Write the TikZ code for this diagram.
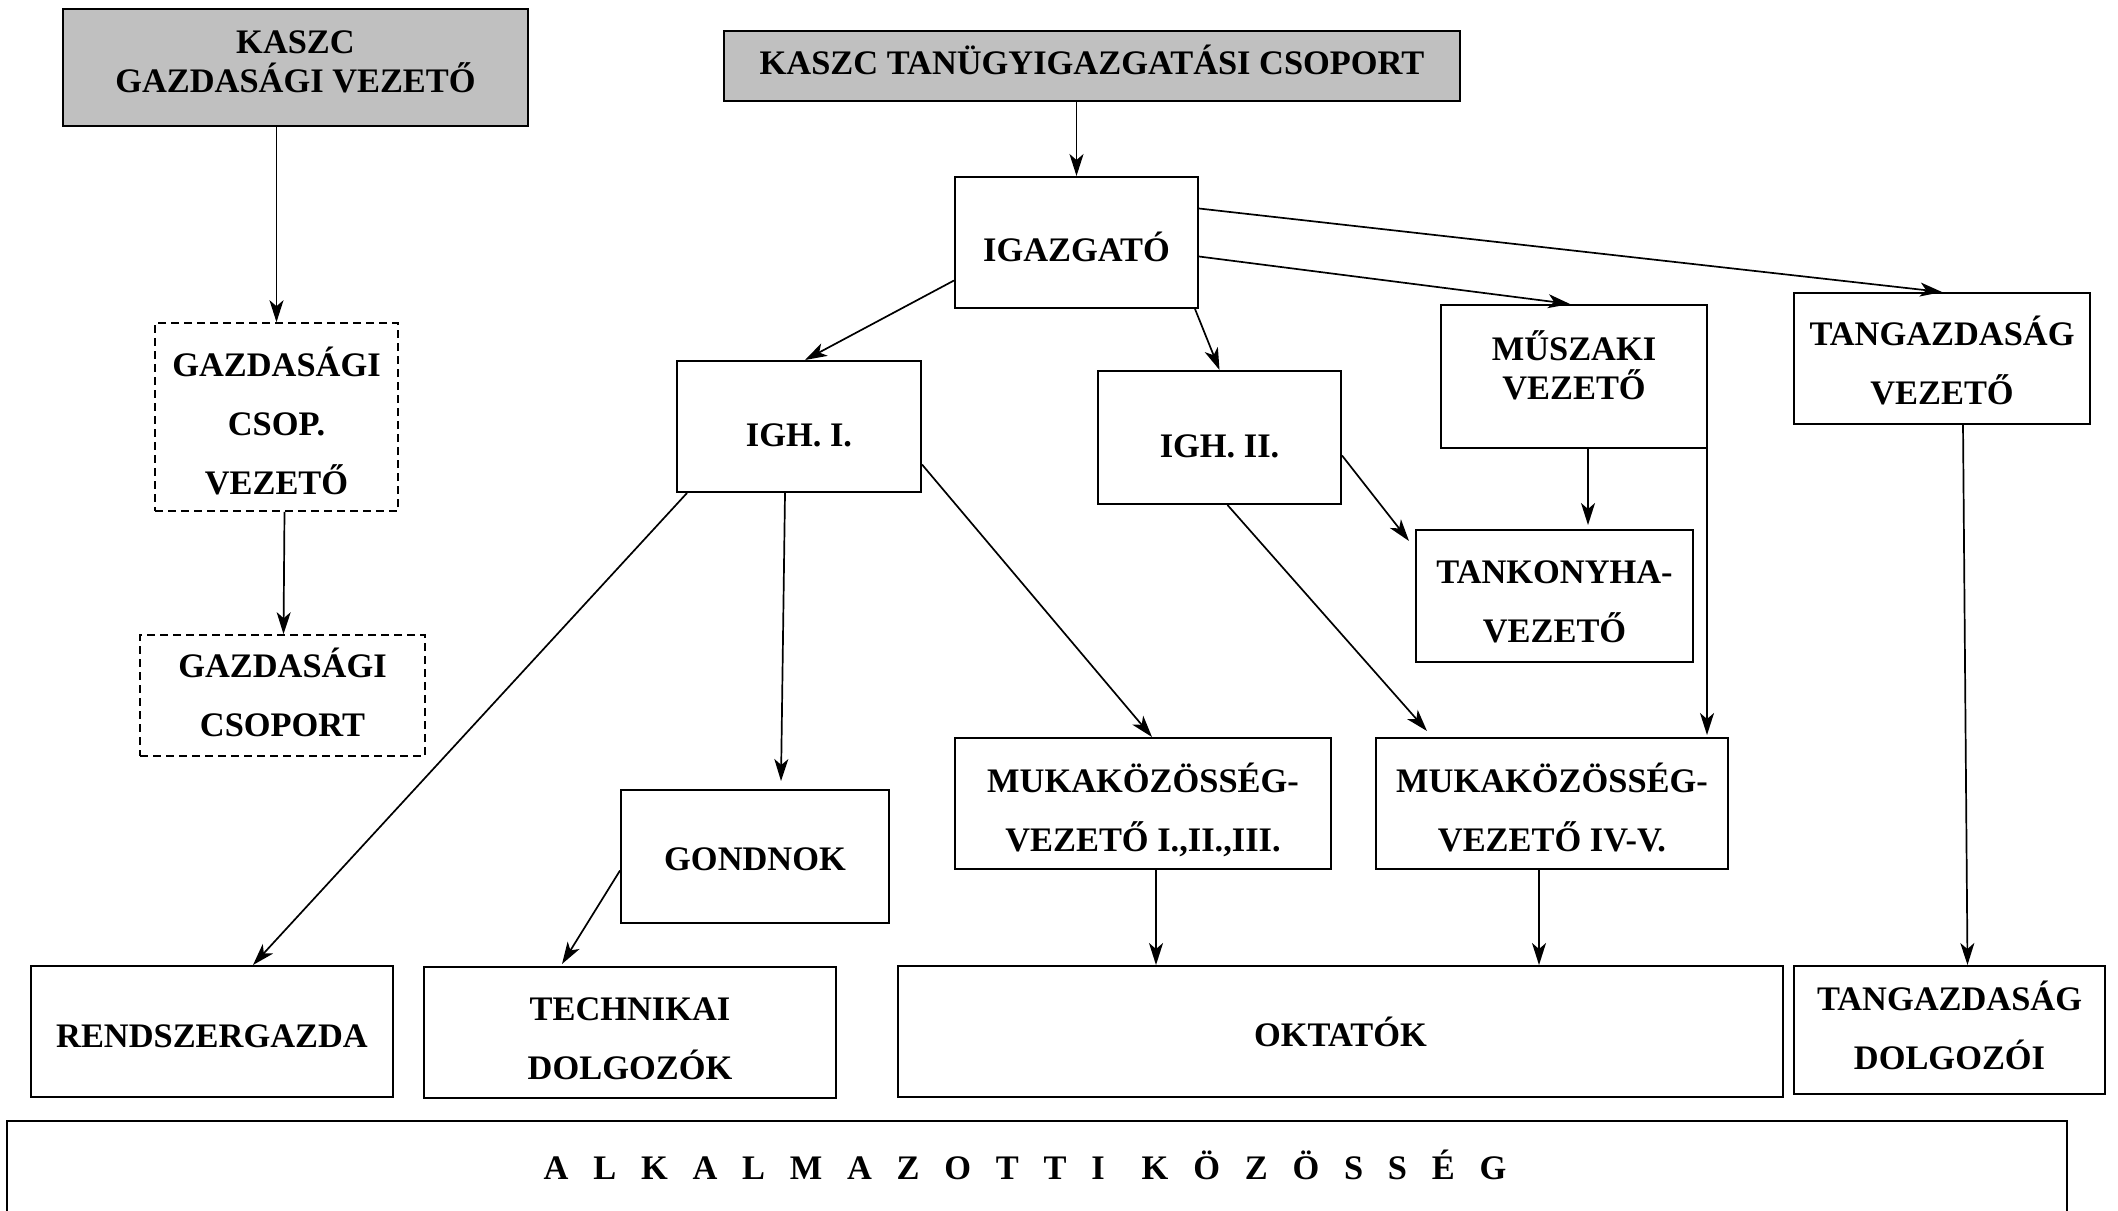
\documentclass[tikz,border=0pt]{standalone}
\usepackage{fontspec}
\setmainfont{Liberation Serif}
\usetikzlibrary{calc,arrows.meta}
\definecolor{boxgray}{RGB}{192,192,192}
\tikzset{
  bx/.style={draw, line width=1pt, inner sep=0pt, align=center,
    font=\bfseries\fontsize{17.2}{19.5}\selectfont},
  sz/.style 2 args={minimum width=#1pt, minimum height=#2pt},
  tb/.style={text height=#1pt, text depth=0pt},
  loose/.style={font=\bfseries\fontsize{17.2}{29.5}\selectfont},
  shaded/.style={fill=boxgray},
  dashbox/.style={dash pattern=on 4pt off 2.5pt, line width=0.8pt},
  arr/.style={line width=0.85pt, -{Stealth[length=11pt,width=7pt,inset=3pt]}}
}
\begin{document}
\begin{tikzpicture}[x=0.5pt,y=-0.5pt]
\useasboundingbox (0,0) rectangle (2118,1210);
% boxes
\node[bx,shaded,sz={232.5}{58.5},tb=24.8] (gv) at (295.5,67.5) {KASZC\\GAZDASÁGI VEZETŐ};
\node[bx,shaded,sz={368}{35},tb=8.8] (tg) at (1092,66) {KASZC TANÜGYIGAZGATÁSI CSOPORT};
\node[bx,sz={121.5}{65.5},tb=18.7] (ig) at (1076.5,242.5) {IGAZGATÓ};
\node[bx,sz={122}{65.5},tb=19.8] (igh1) at (799,426.5) {IGH. I.};
\node[bx,sz={121.5}{66.5},tb=19.6] (igh2) at (1219.5,437.5) {IGH. II.};
\node[bx,sz={133}{71.5},tb=22.5] (mu) at (1574,376.5) {MŰSZAKI\\VEZETŐ};
\node[bx,loose,sz={148}{65.5},tb=45.8] (tgv) at (1942,358.5) {TANGAZDASÁG\\VEZETŐ};
\node[bx,loose,dashbox,sz={121.5}{94},tb=77.9] (gcv) at (276.5,417) {GAZDASÁGI\\CSOP.\\VEZETŐ};
\node[bx,loose,dashbox,sz={142.5}{60.5},tb=41.2] (gc) at (282.5,695.5) {GAZDASÁGI\\CSOPORT};
\node[bx,loose,sz={138.5}{66},tb=46.1] (tk) at (1554.5,596) {TANKONYHA-\\VEZETŐ};
\node[bx,sz={134}{66.5},tb=13.8] (go) at (755,856.5) {GONDNOK};
\node[bx,loose,sz={188}{65.5},tb=48] (mk1) at (1143,803.5) {MUKAKÖZÖSSÉG-\\VEZETŐ I.,II.,III.};
\node[bx,loose,sz={176}{65.5},tb=48] (mk4) at (1552,803.5) {MUKAKÖZÖSSÉG-\\VEZETŐ IV-V.};
\node[bx,sz={181}{65.5},tb=15.8] (rg) at (212,1031.5) {RENDSZERGAZDA};
\node[bx,loose,sz={206}{65.5},tb=47.3] (td) at (630,1032.5) {TECHNIKAI\\DOLGOZÓK};
\node[bx,sz={442.5}{65.5},tb=14.5] (ok) at (1340.5,1031.5) {OKTATÓK};
\node[bx,loose,sz={155.5}{64},tb=39] (tgd) at (1949.5,1030) {TANGAZDASÁG\\DOLGOZÓI};
\node[bx,sz={1030}{47},tb=11.7] (ak) at (1037,1168) {\addfontfeature{LetterSpace=72}ALKALMAZOTTI\hspace{18.5pt}KÖZÖSSÉG\hspace{12pt}};
% connectors
\draw[arr] (gcv.north |- gv.south) -- (gcv.north);
\draw[arr] ($(gcv.south)+(4pt,0)$) -- ($(gc.north)+(0.5pt,0)$);
\draw[arr] (ig.north |- tg.south) -- (ig.north);
\draw[arr] ($(ig.west)+(0,-19pt)$) -- ($(igh1.north)+(3pt,0)$);
\draw[arr] ($(ig.south east)+(-2pt,0)$) -- (igh2.north);
\draw[arr] ($(ig.east)+(0,-7pt)$) -- ($(mu.north)+(-2pt,0)$);
\draw[arr] ($(ig.east)+(0,17pt)$) -- (tgv.north);
\draw[arr] ($(igh1.south west)+(5.5pt,0)$) -- ($(rg.north)+(20.5pt,0)$);
\draw[arr] ($(igh1.south)+(-7pt,0)$) -- ($(go.north)+(13pt,4pt)$);
\draw[arr] ($(igh1.east)+(0,-19pt)$) -- ($(mk1.north)+(4.5pt,0)$);
\draw[arr] ($(go.west)+(0,-7pt)$) -- ($(td.north)+(-34pt,1pt)$);
\draw[arr] ($(igh2.east)+(0,-9pt)$) -- ($(tk.north west)+(-3pt,-6pt)$);
\draw[arr] ($(igh2.south)+(4pt,0)$) -- ($(mk4.north west)+(26pt,3pt)$);
\draw[arr] ($(mu.south)+(7pt,0)$) -- ($(mu.south |- tk.north)+(7pt,2pt)$);
\draw[arr] ($(mu.south east)+(-0.5pt,0)$) -- ($(mu.south east |- mk4.north)+(-0.5pt,1pt)$);
\draw[arr] ($(tgv.south)+(10.5pt,0)$) -- ($(tgd.north)+(9pt,0)$);
\draw[arr] ($(mk1.south)+(6.5pt,0)$) -- ($(mk1.south |- ok.north)+(6.5pt,0)$);
\draw[arr] ($(mk4.south)+(-6.5pt,0)$) -- ($(mk4.south |- ok.north)+(-6.5pt,0)$);
\end{tikzpicture}
\end{document}
